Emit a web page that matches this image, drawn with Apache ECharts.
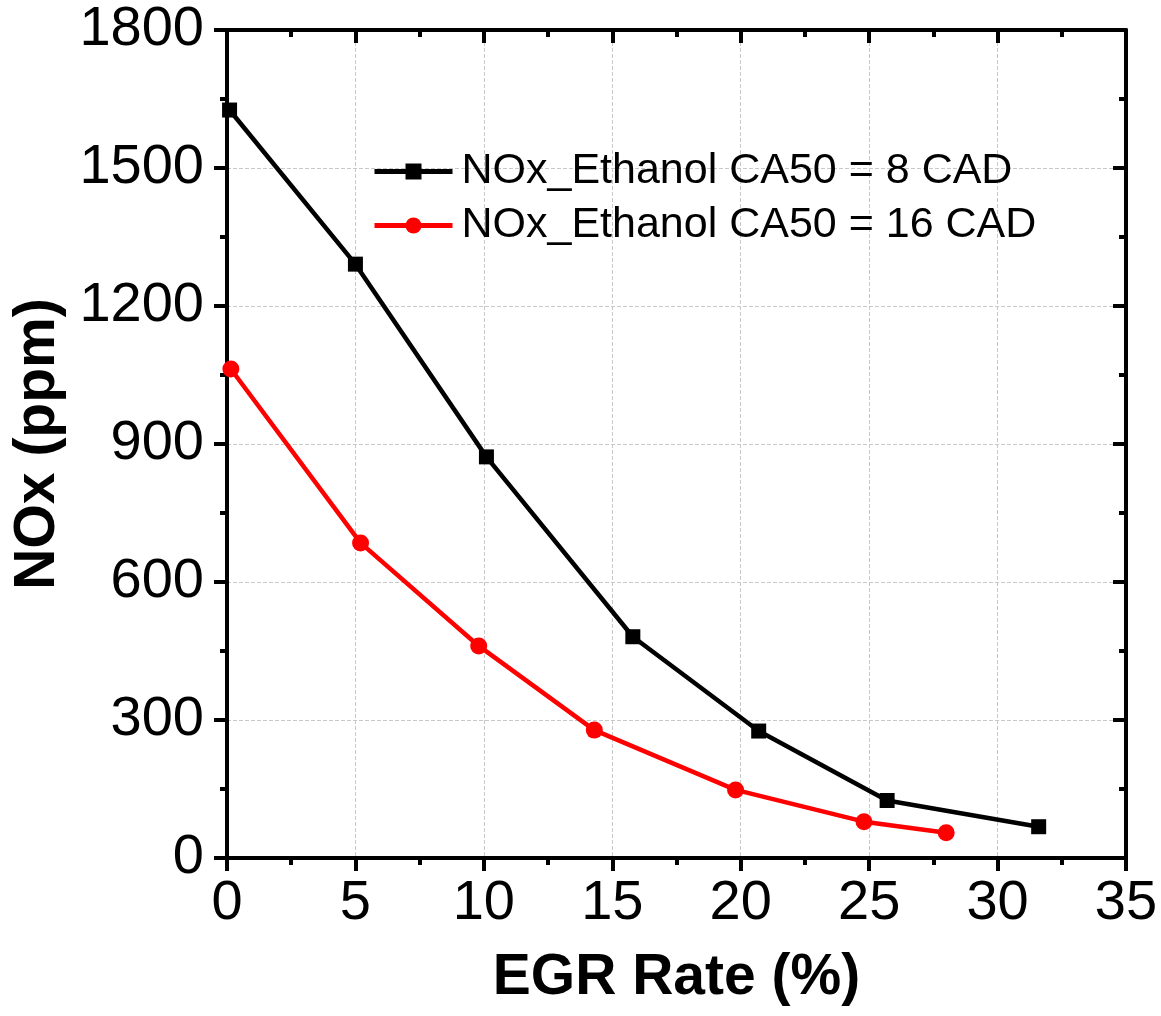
<!DOCTYPE html>
<html>
<head>
<meta charset="utf-8">
<script src="https://cdn.jsdelivr.net/npm/echarts@6/dist/echarts.min.js"></script>
<style>html,body{margin:0;padding:0;background:#fff;}#c{width:1161px;height:1016px;}</style>
</head>
<body>
<div id="c"></div>
<script>
const seriesNames = ['NOx_Ethanol CA50 = 8 CAD', 'NOx_Ethanol CA50 = 16 CAD'];
const egr8 = [0.1, 5.0, 10.1, 15.8, 20.7, 25.7, 31.6];
const nox8 = [1626, 1291, 872, 481, 276, 125, 68];
const egr16 = [0.15, 5.2, 9.8, 14.3, 19.8, 24.8, 28.0];
const nox16 = [1063, 685, 461, 278, 148, 79, 55];
const xTicks = [0, 5, 10, 15, 20, 25, 30, 35];
const yTicks = [0, 300, 600, 900, 1200, 1500, 1800];

const FONT = "'Liberation Sans', Arial, sans-serif";
const chart = echarts.init(document.getElementById('c'), null, {renderer: 'canvas'});
const axisLine = {show: true, onZero: false, lineStyle: {color: '#000', width: 4}};
const grid = {type: 'dashed', color: '#c8c8c8', width: 1};
const pair = (xs, ys) => xs.map((x, i) => [x, ys[i]]);
const plain = v => String(v);

const option = {
  animation: false,
  backgroundColor: '#fff',
  grid: {left: 227, top: 30, width: 899, height: 828, containLabel: false, outerBoundsMode: 'none'},
  legend: {
    orient: 'vertical', left: 367, top: 145,
    itemWidth: 78, itemHeight: 20, itemGap: 11,
    lineStyle: {width: 5},
    textStyle: {fontFamily: FONT, fontSize: 43, color: '#000', padding: [0,0,0,4]},
    data: seriesNames
  },
  xAxis: [{
    type: 'value', min: xTicks[0], max: xTicks[xTicks.length-1], interval: 5,
    position: 'bottom',
    name: 'EGR Rate (%)', nameLocation: 'middle', nameGap: 92,
    nameTextStyle: {fontFamily: FONT, fontSize: 57, fontWeight: 'bold', color: '#000'},
    axisLine: axisLine,
    axisTick: {show: true, inside: false, length: 13, lineStyle: {color: '#000', width: 4}},
    minorTick: {show: true, splitNumber: 2, length: 7, lineStyle: {color: '#000', width: 4}},
    axisLabel: {fontFamily: FONT, fontSize: 56, color: '#000', margin: 18, formatter: plain},
    splitLine: {show: true, lineStyle: grid}
  }, {
    type: 'value', min: xTicks[0], max: xTicks[xTicks.length-1], interval: 5,
    position: 'top',
    axisLine: axisLine,
    axisTick: {show: true, inside: true, length: 13, lineStyle: {color: '#000', width: 4}},
    minorTick: {show: true, splitNumber: 2, length: 7, lineStyle: {color: '#000', width: 4}},
    axisLabel: {show: false},
    splitLine: {show: false}
  }],
  yAxis: [{
    type: 'value', min: yTicks[0], max: yTicks[yTicks.length-1], interval: 300,
    position: 'left',
    name: 'NOx (ppm)', nameLocation: 'middle', nameGap: 160, nameRotate: 90,
    nameTextStyle: {fontFamily: FONT, fontSize: 57, fontWeight: 'bold', color: '#000'},
    axisLine: axisLine,
    axisTick: {show: true, inside: false, length: 13, lineStyle: {color: '#000', width: 4}},
    minorTick: {show: true, splitNumber: 2, length: 7, lineStyle: {color: '#000', width: 4}},
    axisLabel: {fontFamily: FONT, fontSize: 56, color: '#000', margin: 23, formatter: plain},
    splitLine: {show: true, lineStyle: grid}
  }, {
    type: 'value', min: yTicks[0], max: yTicks[yTicks.length-1], interval: 300,
    position: 'right',
    axisLine: axisLine,
    axisTick: {show: true, inside: true, length: 13, lineStyle: {color: '#000', width: 4}},
    minorTick: {show: true, splitNumber: 2, length: 7, lineStyle: {color: '#000', width: 4}},
    axisLabel: {show: false},
    splitLine: {show: false}
  }],
  series: [{
    name: seriesNames[0], type: 'line', xAxisIndex: 0, yAxisIndex: 0,
    data: pair(egr8, nox8), clip: false,
    symbol: 'rect', symbolSize: 15,
    lineStyle: {color: '#000', width: 4.5},
    itemStyle: {color: '#000'}
  }, {
    name: seriesNames[1], type: 'line', xAxisIndex: 0, yAxisIndex: 0,
    data: pair(egr16, nox16), clip: false,
    symbol: 'circle', symbolSize: 17,
    lineStyle: {color: '#ff0000', width: 4.5},
    itemStyle: {color: '#ff0000'}
  }]
};
chart.setOption(option);
</script>
</body>
</html>
